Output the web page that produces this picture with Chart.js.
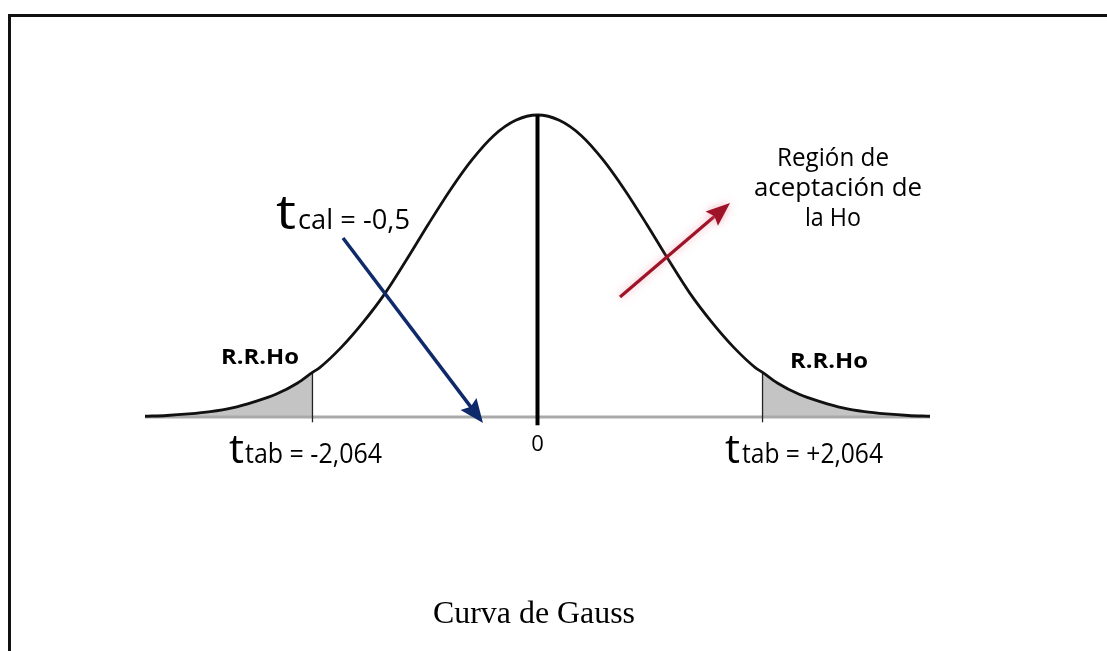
<!DOCTYPE html>
<html>
<head>
<meta charset="utf-8">
<script src="https://cdn.jsdelivr.net/npm/chart.js@4.4.1/dist/chart.umd.min.js"></script>
<style>
html,body{margin:0;padding:0;background:#fff;}
#wrap{position:relative;width:1107px;height:651px;}
</style>
</head>
<body>
<div id="wrap"><canvas id="c" width="1107" height="651"></canvas></div>
<script>
// ---- data ----
const zValues = [-3.6,-3.4,-3.2,-3.0,-2.8,-2.6,-2.4,-2.2,-2.064,-2.0,-1.8,-1.6,-1.4,-1.2,-1.0,-0.8,-0.6,-0.4,-0.2,0,
                 0.2,0.4,0.6,0.8,1.0,1.2,1.4,1.6,1.8,2.0,2.064,2.2,2.4,2.6,2.8,3.0,3.2,3.4,3.6];
const density = [0.001,0.002,0.004,0.007,0.012,0.020,0.030,0.045,0.059,0.065,0.092,0.125,0.163,0.208,0.255,0.300,0.340,0.372,0.392,0.399,
                 0.392,0.372,0.340,0.300,0.255,0.208,0.163,0.125,0.092,0.065,0.059,0.045,0.030,0.020,0.012,0.007,0.004,0.002,0.001];
const criticalT = [-2.064, 2.064];
const tCal = -0.5;
const zRange = [-3.6, 3.6];
const peakDensity = 0.399;
const tickLabels = ["0"];

// ---- derived datasets ----
const curvePts = zValues.map((z,i)=>({x:z,y:density[i]}));
const leftTail = curvePts.filter(p=>p.x<=criticalT[0]);
const rightTail = curvePts.filter(p=>p.x>=criticalT[1]);
const densAt = z => curvePts.find(p=>p.x===z).y;

const annotations = {
  blueArrow: {from:{x:-1.784,y:0.2365}, to:{x:tCal,y:-0.008}},
  redArrow:  {from:{x:0.757,y:0.1585}, to:{x:1.766,y:0.2827}}
};

function drawArrow(ctx, x1,y1,x2,y2, color, lw, headLen, headW){
  const a = Math.atan2(y2-y1,x2-x1);
  const bx = x2 - headLen*Math.cos(a), by = y2 - headLen*Math.sin(a);
  ctx.strokeStyle = color; ctx.fillStyle = color; ctx.lineWidth = lw; ctx.lineCap='butt';
  ctx.beginPath(); ctx.moveTo(x1,y1); ctx.lineTo(bx+ (headLen*0.3)*Math.cos(a), by+(headLen*0.3)*Math.sin(a)); ctx.stroke();
  ctx.beginPath();
  ctx.moveTo(x2,y2);
  ctx.lineTo(bx + headW/2*Math.sin(a), by - headW/2*Math.cos(a));
  ctx.lineTo(bx + headLen*0.15*Math.cos(a), by + headLen*0.15*Math.sin(a));
  ctx.lineTo(bx - headW/2*Math.sin(a), by + headW/2*Math.cos(a));
  ctx.closePath(); ctx.fill();
}

function fitText(ctx, text, x, y, font, width, align){
  ctx.font = font;
  const m = ctx.measureText(text).width;
  const s = width ? width/m : 1;
  const w = m*s;
  let left = x;
  if(align==='center') left = x - w/2;
  ctx.save(); ctx.translate(left,y); ctx.scale(s,1);
  ctx.textAlign='left'; ctx.textBaseline='alphabetic';
  ctx.fillText(text,0,0); ctx.restore();
}

const overlay = {
  id:'overlay',
  afterDatasetsDraw(chart){
    const ctx = chart.ctx, xs = chart.scales.x, ys = chart.scales.y;
    ctx.save();
    const b = annotations.blueArrow;
    drawArrow(ctx, xs.getPixelForValue(b.from.x), ys.getPixelForValue(b.from.y),
              xs.getPixelForValue(b.to.x), ys.getPixelForValue(b.to.y), '#0f2a6b', 3.5, 24, 20);
    const r = annotations.redArrow;
    ctx.shadowColor = 'rgba(230,120,140,0.6)'; ctx.shadowBlur = 8;
    drawArrow(ctx, xs.getPixelForValue(r.from.x), ys.getPixelForValue(r.from.y),
              xs.getPixelForValue(r.to.x), ys.getPixelForValue(r.to.y), '#9e1328', 3.2, 24, 19);
    ctx.restore();
  },
  afterDraw(chart){
    const ctx = chart.ctx, xs = chart.scales.x;
    ctx.save();
    ctx.strokeStyle = '#111'; ctx.lineWidth = 3;
    ctx.beginPath(); ctx.moveTo(9.5, 700); ctx.lineTo(9.5, 15.5); ctx.lineTo(1130, 15.5); ctx.stroke();
    ctx.fillStyle = '#000';
    const sans = '"Open Sans", "DejaVu Sans", sans-serif';
    fitText(ctx, 'Región de', 833, 166, '26px '+sans, 112, 'center');
    fitText(ctx, 'aceptación de', 838, 196, '26px '+sans, 168, 'center');
    fitText(ctx, 'la Ho', 833, 226, '26px '+sans, 56, 'center');
    fitText(ctx, 'R.R.Ho', 221, 364, 'bold 22px '+sans, 78);
    fitText(ctx, 'R.R.Ho', 790, 368, 'bold 22px '+sans, 78);
    fitText(ctx, 't', 276, 229, '48px '+sans, 20);
    fitText(ctx, 'cal = -0,5', 298, 229, '27px '+sans, 112);
    fitText(ctx, 't', 229, 463, '40px '+sans, 15);
    fitText(ctx, 'tab = -2,064', 245, 463, '27px '+sans, 137);
    fitText(ctx, 't', 725, 463, '40px '+sans, 15);
    fitText(ctx, 'tab = +2,064', 742, 463, '27px '+sans, 141);
    fitText(ctx, tickLabels[0], xs.getPixelForValue(0), 451, '22px '+sans, null, 'center');
    fitText(ctx, 'Curva de Gauss', 534, 623, '31px "Liberation Serif", "Times New Roman", serif', 202, 'center');
    ctx.restore();
  }
};

new Chart(document.getElementById('c'), {
  type:'scatter',
  data:{
    datasets:[
      {data:[{x:0,y:-0.011},{x:0,y:peakDensity}], showLine:true, borderColor:'#000', borderWidth:4, pointRadius:0, order:1, clip:false},
      {data:curvePts, showLine:true, borderColor:'#111', borderWidth:2.8, pointRadius:0, cubicInterpolationMode:'monotone', order:2, clip:false},
      {data:[{x:criticalT[0],y:-0.007},{x:criticalT[0],y:densAt(criticalT[0])}], showLine:true, borderColor:'#222', borderWidth:1.3, pointRadius:0, order:3, clip:false},
      {data:[{x:criticalT[1],y:-0.007},{x:criticalT[1],y:densAt(criticalT[1])}], showLine:true, borderColor:'#222', borderWidth:1.3, pointRadius:0, order:3, clip:false},
      {data:[{x:zRange[0],y:0},{x:zRange[1],y:0}], showLine:true, borderColor:'#a9a9a9', borderWidth:3, pointRadius:0, order:4, clip:false},
      {data:leftTail, showLine:true, borderWidth:0, borderColor:'rgba(0,0,0,0)', backgroundColor:'#c4c4c4', fill:'origin', pointRadius:0, cubicInterpolationMode:'monotone', order:5},
      {data:rightTail, showLine:true, borderWidth:0, borderColor:'rgba(0,0,0,0)', backgroundColor:'#c4c4c4', fill:'origin', pointRadius:0, cubicInterpolationMode:'monotone', order:5}
    ]
  },
  options:{
    responsive:false, animation:false, events:[],
    layout:{padding:{left:145, right:177, top:115, bottom:234}},
    scales:{
      x:{type:'linear', min:zRange[0], max:zRange[1], display:false},
      y:{type:'linear', min:0, max:peakDensity, display:false}
    },
    plugins:{legend:{display:false}, tooltip:{enabled:false}, title:{display:false}}
  },
  plugins:[overlay]
});
</script>
</body>
</html>
